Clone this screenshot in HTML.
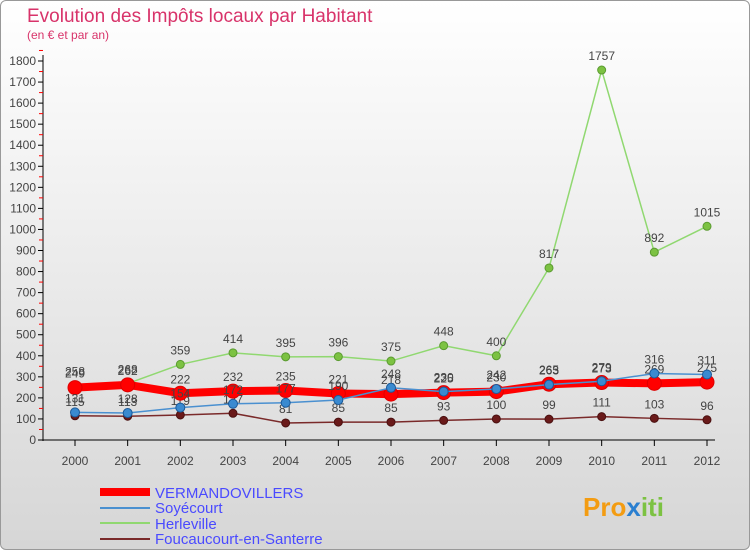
<!DOCTYPE html>
<html><head><meta charset="utf-8"><style>
body{margin:0;width:750px;height:550px;overflow:hidden;font-family:"Liberation Sans",sans-serif}
#wrap{position:absolute;left:0;top:0;width:748px;height:548px;border:1px solid #999;border-radius:6px;background:linear-gradient(#ffffff,#d6d6d6)}
</style></head><body>
<div id="wrap">
<svg id="chart" width="750" height="550" style="position:absolute;left:-1px;top:-1px">
<text x="27" y="22" font-size="19" fill="#d8336a">Evolution des Impôts locaux par Habitant</text>
<text x="27" y="39" font-size="12" fill="#d8336a">(en € et par an)</text>
<g id="axes"></g><g id="series"></g>
<g>
<line x1="100" y1="492" x2="150" y2="492" stroke="#f00" stroke-width="8"/>
<text x="155" y="498" font-size="15" fill="#4a4aff">VERMANDOVILLERS</text>
<line x1="100" y1="508" x2="150" y2="508" stroke="#4a90d0" stroke-width="2"/>
<text x="155" y="513" font-size="15" fill="#4a4aff">Soyécourt</text>
<line x1="100" y1="523" x2="150" y2="523" stroke="#90d870" stroke-width="2"/>
<text x="155" y="529" font-size="15" fill="#4a4aff">Herleville</text>
<line x1="100" y1="539" x2="150" y2="539" stroke="#7a2a2a" stroke-width="2"/>
<text x="155" y="544" font-size="15" fill="#4a4aff">Foucaucourt-en-Santerre</text>
</g>
<text x="583" y="516" font-size="26" font-weight="bold" fill="#f39c12">Pro<tspan fill="#2a7fd0">x</tspan><tspan fill="#7cc242">iti</tspan></text>
</svg></div>
<script>
const years=[2000,2001,2002,2003,2004,2005,2006,2007,2008,2009,2010,2011,2012];
const yTicks=[0,100,200,300,400,500,600,700,800,900,1000,1100,1200,1300,1400,1500,1600,1700,1800];
const verm=[249,262,222,232,235,221,218,225,230,265,273,269,275];
const soy=[131,128,154,172,177,190,248,230,242,263,279,316,311];
const herl=[258,268,359,414,395,396,375,448,400,817,1757,892,1015];
const fouc=[115,113,119,127,81,85,85,93,100,99,111,103,96];
const NS="http://www.w3.org/2000/svg";
const X=i=>75+i*(707-75)/(years.length-1);
const Y=v=>440-v*(440-61)/1800;
function mk(t,a,p){const e=document.createElementNS(NS,t);for(const k in a)e.setAttribute(k,a[k]);p.appendChild(e);return e;}
const ax=document.getElementById('axes');
mk('line',{x1:43,y1:55,x2:43,y2:441,stroke:'#000'},ax);
mk('line',{x1:43,y1:440,x2:715,y2:440,stroke:'#000'},ax);
yTicks.forEach(v=>{mk('line',{x1:38,y1:Y(v),x2:43,y2:Y(v),stroke:'#000'},ax);
 mk('line',{x1:39,y1:Y(v+50),x2:43,y2:Y(v+50),stroke:'#f00'},ax);
 const t=mk('text',{x:36,y:Y(v)+4,'font-size':12,fill:'#444','text-anchor':'end'},ax);
 
 
 t.textContent=v;});
years.forEach((y,i)=>{mk('line',{x1:X(i),y1:440,x2:X(i),y2:446,stroke:'#000'},ax);
 const t=mk('text',{x:X(i),y:465,'font-size':12,fill:'#444','text-anchor':'middle'},ax);
 
 
 t.textContent=y;});
const sg=document.getElementById('series');
function draw(d,name,col,w,r,fill,stroke){
 const g=mk('g',{},sg);
 
 
 mk('polyline',{points:d.map((v,i)=>X(i)+','+Y(v)).join(' '),fill:'none',stroke:col,'stroke-width':w},g);
 d.forEach((v,i)=>{const c=mk('circle',{cx:X(i),cy:Y(v),r:r,fill:fill,stroke:stroke,'stroke-width':1},g);
  
  
  const t=mk('text',{x:X(i),y:Y(v)-10,'font-size':12,fill:'#444','text-anchor':'middle'},g);
  t.textContent=v;});
}
draw(fouc,'series-foucaucourt','#7a2a2a',1.5,4,'#6a1a1a','#4a1010');
draw(herl,'series-herleville','#90d870',1.5,4,'#7cc242','#5a9a30');
draw(verm,'series-vermandovillers','#f00',8,7,'#f00','#d00');
draw(soy,'series-soyecourt','#4a90d0',1.5,4.5,'#3a8ad0','#1a5a9a');
</script>
</body></html>
